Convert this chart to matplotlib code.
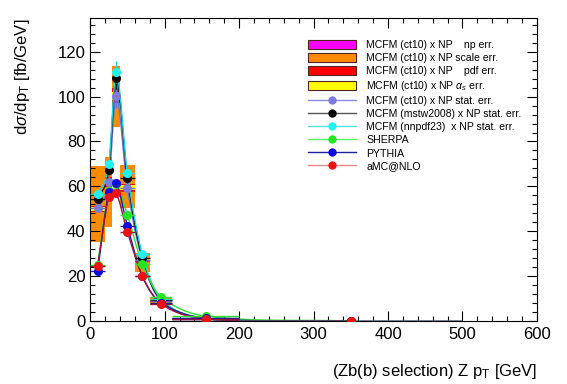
#!/usr/bin/env python3
"""Z pT differential cross section, Zb(b) selection: MCFM bands vs generators."""

import matplotlib

matplotlib.use("Agg")
import matplotlib.pyplot as plt
from matplotlib.lines import Line2D
from matplotlib.patches import PathPatch, Rectangle
from matplotlib.path import Path
from matplotlib.ticker import MultipleLocator

plt.rcParams["font.family"] = ["Liberation Sans", "DejaVu Sans"]
plt.rcParams["mathtext.fontset"] = "custom"
plt.rcParams["mathtext.rm"] = "Liberation Sans"
plt.rcParams["mathtext.it"] = "Liberation Sans:italic"

# binning (GeV)
bin_lo = [0, 20, 30, 40, 60, 80, 110, 200]
bin_hi = [20, 30, 40, 60, 80, 110, 200, 500]
bin_x = [10, 25, 35, 50, 70, 95, 155, 350]

# MCFM (ct10) x NP uncertainty bands
scale_lo = [35.4, 41.8, 86.3, 50.3, 22.0, 7.3, 0.6, 0.0]
scale_hi = [69.2, 73.0, 113.5, 69.3, 30.2, 10.8, 1.4, 0.0]
np_lo = [47.5, 58.5, 95.0, 56.5, 25.8, 8.5, 0.9, 0.0]
np_hi = [53.0, 65.0, 105.0, 62.0, 28.6, 9.5, 1.1, 0.0]
pdf_lo = [48.6, 59.6, 97.2, 57.6, 26.2, 8.6, 0.9, 0.0]
pdf_hi = [51.4, 64.2, 103.9, 61.2, 28.2, 9.4, 1.1, 0.0]
as_lo = [49.2, 60.6, 98.5, 58.2, 26.6, 8.8, 0.95, 0.0]
as_hi = [50.9, 63.2, 102.0, 60.4, 27.8, 9.2, 1.05, 0.0]

# central values (fb/GeV)
ct10 = [50.3, 61.9, 100.1, 59.2, 27.2, 9.0, 1.0, 0.0]
mstw = [54.5, 67.4, 108.3, 63.7, 28.0, 9.5, 1.1, 0.0]
nnpdf = [56.4, 69.8, 111.0, 65.9, 29.8, 9.8, 1.2, 0.0]
sherpa = [25.0, 58.0, 61.0, 47.3, 25.4, 10.9, 2.2, 0.0]
pythia = [22.5, 57.6, 61.7, 42.4, 20.0, 8.2, 1.3, 0.0]
amcnlo = [24.4, 55.2, 57.0, 39.8, 20.1, 7.6, 1.0, 0.0]
mcfm_stat = [1.2, 1.5, 5.0, 1.5, 1.0, 0.4, 0.2, 0.0]
mc_stat = [0.8, 1.2, 1.5, 1.0, 0.6, 0.3, 0.1, 0.0]

series = [
    # label, values, yerr, marker, curve colour, legend line colour
    ("MCFM (ct10) x NP stat. err.", ct10, mcfm_stat, "#7b7bdc", "#6f6fd2", "#8c8ce0"),
    ("MCFM (mstw2008) x NP stat. err.", mstw, mcfm_stat, "#000000", "#111111", "#555555"),
    ("MCFM (nnpdf23)  x NP stat. err.", nnpdf, mcfm_stat, "#22f2f2", "#1ed6d6", "#55e0e0"),
    ("SHERPA", sherpa, mc_stat, "#22e622", "#33dd33", "#66ee66"),
    ("PYTHIA", pythia, mc_stat, "#0a0ae0", "#1a1aa0", "#2222a0"),
    ("aMC@NLO", amcnlo, mc_stat, "#ee1111", "#991540", "#e88888"),
]


def smooth_path(xs, ys):
    # cubic Bezier through the points (ROOT "C"-like drawing)
    n = len(xs)
    slopes = []
    for i in range(n):
        a, b = max(i - 1, 0), min(i + 1, n - 1)
        slopes.append((ys[b] - ys[a]) / (xs[b] - xs[a]))
    verts = [(xs[0], ys[0])]
    codes = [Path.MOVETO]
    for i in range(n - 1):
        dx = (xs[i + 1] - xs[i]) / 3.0
        verts += [(xs[i] + dx, ys[i] + slopes[i] * dx),
                  (xs[i + 1] - dx, ys[i + 1] - slopes[i + 1] * dx),
                  (xs[i + 1], ys[i + 1])]
        codes += [Path.CURVE4] * 3
    return Path(verts, codes)


fig = plt.figure(figsize=(5.67, 3.84), dpi=100)
ax = fig.add_axes([0.159, 0.164, 0.788, 0.789])

widths = [h - l for l, h in zip(bin_lo, bin_hi)]
xerr = [[c - l for c, l in zip(bin_x, bin_lo)], [h - c for c, h in zip(bin_x, bin_hi)]]


def band(lo, hi, color):
    ax.bar(bin_lo, [h - l for l, h in zip(lo, hi)], widths, bottom=lo, align="edge",
           color=color, linewidth=0, zorder=1)


band(np_lo, np_hi, "#ff00ff")
band(scale_lo, scale_hi, "#ff8c00")
band(pdf_lo, pdf_hi, "#ff0000")
band(as_lo, as_hi, "#ffff00")

for label, vals, yerr, mcol, ccol, lcol in series:
    ax.add_patch(PathPatch(smooth_path(bin_x, vals), facecolor="none", edgecolor=ccol,
                           linewidth=1.0, zorder=2))
for label, vals, yerr, mcol, ccol, lcol in series:
    ax.errorbar(bin_x, vals, xerr=xerr, yerr=yerr, fmt="o", color=mcol, ecolor=ccol,
                markersize=5.5, elinewidth=1.0, capsize=0, zorder=3)

ax.set_xlim(0, 600)
ax.set_ylim(0, 135)
ax.xaxis.set_major_locator(MultipleLocator(100))
ax.xaxis.set_minor_locator(MultipleLocator(20))
ax.yaxis.set_major_locator(MultipleLocator(20))
ax.yaxis.set_minor_locator(MultipleLocator(4))
ax.tick_params(which="both", direction="in", top=True, right=True, labelsize=12, width=0.8)
ax.tick_params(which="major", length=7)
ax.tick_params(which="minor", length=3.5)
ax.tick_params(axis="x", pad=4)

ax.set_xlabel(r"(Zb(b) selection) Z p$_{\mathrm{T}}$ [GeV]", fontsize=12, ha="right")
ax.xaxis.set_label_coords(1.0, -0.135)
ax.set_ylabel(r"d$\sigma$/dp$_{\mathrm{T}}$ [fb/GeV]", fontsize=12, ha="right")
ax.yaxis.set_label_coords(-0.13, 1.0)

handles = [
    Rectangle((0, 0), 1, 1, facecolor="#ff00ff", edgecolor="#552222", linewidth=0.8),
    Rectangle((0, 0), 1, 1, facecolor="#ff8c00", edgecolor="#552222", linewidth=0.8),
    Rectangle((0, 0), 1, 1, facecolor="#ff0000", edgecolor="#552222", linewidth=0.8),
    Rectangle((0, 0), 1, 1, facecolor="#ffff00", edgecolor="#552222", linewidth=0.8),
]
labels = [
    "MCFM (ct10) x NP    np err.",
    "MCFM (ct10) x NP scale err.",
    "MCFM (ct10) x NP    pdf err.",
    "MCFM (ct10) x NP $\\alpha_{s}$ err.",
]
for label, vals, yerr, mcol, ccol, lcol in series:
    handles.append(Line2D([], [], color=lcol, linewidth=1.0, marker="o", markersize=5,
                          markerfacecolor=mcol, markeredgecolor=mcol))
    labels.append(label)

leg = ax.legend(handles, labels, loc="upper left", bbox_to_anchor=(0.488, 0.928),
                frameon=False, fontsize=7.6, handlelength=4.5, handleheight=1.0,
                handletextpad=1.0, labelspacing=0.26, borderpad=0, borderaxespad=0)

fig.savefig("out.png", dpi=100)
